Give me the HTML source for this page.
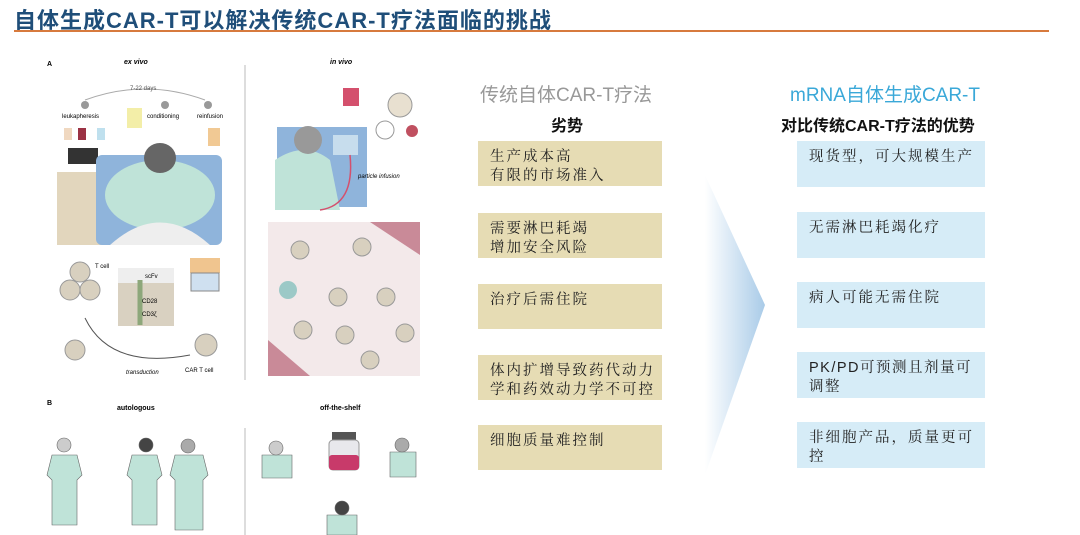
<!DOCTYPE html>
<html><head><meta charset="utf-8"><style>
body{margin:0;width:1080px;height:535px;background:#fff;position:relative;overflow:hidden;font-family:"Liberation Sans","Noto Sans CJK SC",sans-serif}
.t{position:absolute;white-space:nowrap}
.box{position:absolute;font-family:"Liberation Sans","Noto Serif CJK SC",serif;font-size:14.5px;line-height:19px;padding:7px 0 0 12px;box-sizing:border-box;color:#222;letter-spacing:2px}
.l{background:#e6dcb4;left:478px;width:184px;height:45px}
.r{background:#d6ecf7;left:797px;width:188px;height:46px}
</style></head><body>
<div class="t" style="left:14px;top:3px;font-size:22px;font-weight:bold;color:#1f4e79;letter-spacing:1px">自体生成CAR-T可以解决传统CAR-T疗法面临的挑战</div>
<div style="position:absolute;left:14px;top:30px;width:1035px;height:2px;background:#d77a3d"></div>

<svg style="position:absolute;left:0;top:0" width="460" height="535" font-family="Liberation Sans" font-size="6">
<text x="47" y="66" font-weight="bold" font-size="7">A</text>
<text x="124" y="64" font-style="italic" font-weight="bold" font-size="7">ex vivo</text>
<text x="330" y="64" font-style="italic" font-weight="bold" font-size="7">in vivo</text>
<line x1="245" y1="65" x2="245" y2="380" stroke="#bbb"/>
<path d="M85 100 Q145 78 205 100" stroke="#aaa" fill="none"/>
<text x="130" y="90" fill="#555">7-22 days</text>
<circle cx="85" cy="105" r="4" fill="#999"/><circle cx="165" cy="105" r="4" fill="#999"/><circle cx="208" cy="105" r="4" fill="#999"/>
<text x="62" y="118">leukapheresis</text><text x="147" y="118">conditioning</text><text x="197" y="118">reinfusion</text>
<rect x="127" y="108" width="15" height="20" fill="#f3eea8"/>
<rect x="208" y="128" width="12" height="18" fill="#f1c994"/>
<rect x="57" y="172" width="56" height="73" fill="#e2d6bd"/>
<rect x="68" y="148" width="30" height="16" fill="#333"/>
<rect x="64" y="128" width="8" height="12" fill="#f0d8c0"/><rect x="78" y="128" width="8" height="12" fill="#9b3244"/><rect x="97" y="128" width="8" height="12" fill="#bfe0ee"/>
<rect x="96" y="155" width="126" height="90" rx="6" fill="#8fb4db"/>
<ellipse cx="160" cy="195" rx="55" ry="35" fill="#bfe3d8"/>
<ellipse cx="160" cy="158" rx="16" ry="15" fill="#666"/>
<path d="M110 245 Q160 200 210 245 Z" fill="#eee"/>
<circle cx="80" cy="272" r="10" fill="#d8d0bf" stroke="#999"/><circle cx="70" cy="290" r="10" fill="#d8d0bf" stroke="#999"/><circle cx="90" cy="290" r="10" fill="#d8d0bf" stroke="#999"/>
<text x="95" y="268">T cell</text>
<rect x="118" y="268" width="56" height="58" fill="#d9d1c1"/><rect x="118" y="268" width="56" height="15" fill="#eee"/>
<path d="M140 280 v45" stroke="#8da77a" stroke-width="5"/>
<text x="145" y="278">scFv</text><text x="142" y="303">CD28</text><text x="142" y="316">CD3ζ</text>
<rect x="190" y="258" width="30" height="15" fill="#f0c58f"/><rect x="191" y="273" width="28" height="18" fill="#cfe0f0" stroke="#888"/>
<circle cx="206" cy="345" r="11" fill="#d8d0bf" stroke="#999"/>
<text x="185" y="372">CAR T cell</text>
<circle cx="75" cy="350" r="10" fill="#d8d0bf" stroke="#999"/>
<path d="M85 318 Q110 370 190 355" stroke="#555" fill="none"/>
<text x="126" y="374" font-style="italic">transduction</text>
<rect x="343" y="88" width="16" height="18" fill="#d4506d"/>
<circle cx="400" cy="105" r="12" fill="#e8e0d0" stroke="#999"/><circle cx="385" cy="130" r="9" fill="#fff" stroke="#999"/><circle cx="412" cy="131" r="6" fill="#c05060"/>
<rect x="277" y="127" width="90" height="80" fill="#8fb4db"/>
<path d="M275 160 Q305 140 330 160 L340 210 L275 210Z" fill="#bfe3d8"/>
<circle cx="308" cy="140" r="14" fill="#999"/>
<rect x="333" y="135" width="25" height="20" fill="#c7dded"/>
<path d="M350 155 Q355 205 320 210" stroke="#d4506d" fill="none" stroke-width="1.5"/>
<text x="358" y="178" font-style="italic">particle infusion</text>
<rect x="268" y="222" width="152" height="154" fill="#f3e9ea"/>
<path d="M370 222 L420 222 L420 255Z" fill="#c98a98"/><path d="M268 340 L268 376 L310 376Z" fill="#c98a98"/>
<g fill="#d8d0bf" stroke="#999"><circle cx="300" cy="250" r="9"/><circle cx="362" cy="247" r="9"/><circle cx="338" cy="297" r="9"/><circle cx="386" cy="297" r="9"/><circle cx="303" cy="330" r="9"/><circle cx="345" cy="335" r="9"/><circle cx="405" cy="333" r="9"/><circle cx="370" cy="360" r="9"/></g>
<circle cx="288" cy="290" r="9" fill="#9cc9c7"/>
<text x="47" y="405" font-weight="bold" font-size="7">B</text>
<text x="117" y="410" font-weight="bold" font-size="7">autologous</text>
<text x="320" y="410" font-weight="bold" font-size="7">off-the-shelf</text>
<line x1="245" y1="428" x2="245" y2="535" stroke="#bbb"/>
<g fill="#bfe3d8" stroke="#666" stroke-width=".6">
<path d="M52 455 h25 l5 20 -5 5 v45 h-25 v-45 l-5-5Z"/><circle cx="64" cy="445" r="7" fill="#ccc"/>
<path d="M132 455 h25 l5 20 -5 5 v45 h-25 v-45 l-5-5Z"/><circle cx="146" cy="445" r="7" fill="#444"/>
<path d="M175 455 h28 l5 20 -5 5 v50 h-28 v-50 l-5-5Z"/><circle cx="188" cy="446" r="7" fill="#aaa"/>
<path d="M262 455 h30 v23 h-30Z"/><circle cx="276" cy="448" r="7" fill="#ccc"/>
<path d="M390 452 h26 v25 h-26Z"/><circle cx="402" cy="445" r="7" fill="#aaa"/>
<path d="M327 515 h30 v20 h-30Z"/><circle cx="342" cy="508" r="7" fill="#444"/>
</g>
<rect x="332" y="432" width="24" height="8" fill="#555"/>
<rect x="329" y="440" width="30" height="30" rx="4" fill="#e8e8ec" stroke="#999"/>
<rect x="329" y="455" width="30" height="15" rx="3" fill="#c83a6a"/>
</svg>

<div class="t" style="left:480px;top:80px;font-size:19px;color:#999">传统自体CAR-T疗法</div>
<div class="t" style="left:551px;top:112px;font-size:16px;font-weight:bold;color:#111">劣势</div>
<div class="t" style="left:790px;top:80px;font-size:19px;color:#3aa8d8">mRNA自体生成CAR-T</div>
<div class="t" style="left:781px;top:112px;font-size:16px;font-weight:bold;color:#111">对比传统CAR-T疗法的优势</div>

<div class="box l" style="top:141px">生产成本高<br>有限的市场准入</div>
<div class="box l" style="top:213px">需要淋巴耗竭<br>增加安全风险</div>
<div class="box l" style="top:284px">治疗后需住院</div>
<div class="box l" style="top:355px">体内扩增导致药代动力<br>学和药效动力学不可控</div>
<div class="box l" style="top:425px">细胞质量难控制</div>

<svg style="position:absolute;left:700px;top:170px" width="70" height="310"><defs><linearGradient id="g" x1="0" x2="1"><stop offset="0" stop-color="#fff"/><stop offset="1" stop-color="#a9cbe8"/></linearGradient></defs><path d="M5 5 L65 135 L5 305Z" fill="url(#g)"/></svg>

<div class="box r" style="top:141px">现货型，可大规模生产</div>
<div class="box r" style="top:212px">无需淋巴耗竭化疗</div>
<div class="box r" style="top:282px">病人可能无需住院</div>
<div class="box r" style="top:352px;letter-spacing:1.5px">PK/PD可预测且剂量可<br>调整</div>
<div class="box r" style="top:422px">非细胞产品，质量更可<br>控</div>
</body></html>
